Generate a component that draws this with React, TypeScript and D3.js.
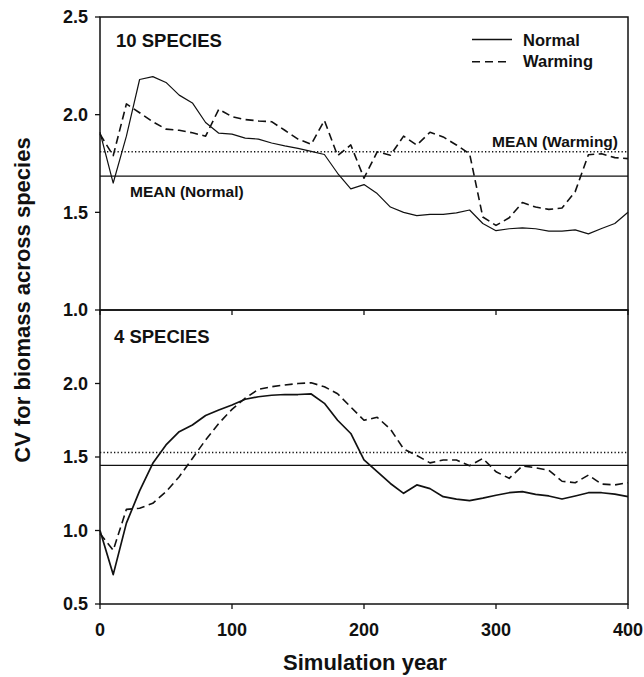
import React from "react";
import * as d3 from "d3";

const years = [0,10,20,30,40,50,60,70,80,90,100,110,120,130,140,150,160,170,180,190,200,210,220,230,240,250,260,270,280,290,300,310,320,330,340,350,360,370,380,390,400];

const top10Normal = [1.91,1.65,1.89,2.18,2.195,2.165,2.10,2.06,1.96,1.905,1.90,1.88,1.875,1.855,1.84,1.827,1.812,1.796,1.70,1.62,1.642,1.596,1.527,1.50,1.483,1.49,1.49,1.497,1.512,1.443,1.406,1.416,1.42,1.416,1.404,1.404,1.41,1.39,1.417,1.443,1.50];
const top10Warming = [1.90,1.79,2.055,2.01,1.964,1.926,1.92,1.907,1.89,2.028,1.99,1.975,1.968,1.964,1.92,1.875,1.848,1.97,1.79,1.845,1.675,1.81,1.792,1.89,1.844,1.91,1.886,1.845,1.80,1.476,1.433,1.472,1.55,1.527,1.515,1.522,1.606,1.795,1.80,1.78,1.775];
const bot4Normal = [1.00,0.70,1.05,1.27,1.457,1.582,1.672,1.718,1.782,1.82,1.854,1.893,1.91,1.92,1.925,1.925,1.929,1.865,1.75,1.66,1.48,1.40,1.32,1.253,1.31,1.285,1.23,1.214,1.203,1.22,1.24,1.257,1.264,1.246,1.235,1.214,1.235,1.257,1.257,1.248,1.23];
const bot4Warming = [0.98,0.865,1.144,1.151,1.185,1.264,1.366,1.49,1.616,1.729,1.824,1.90,1.96,1.978,1.99,2.0,2.005,1.978,1.93,1.84,1.75,1.77,1.69,1.555,1.51,1.46,1.48,1.48,1.44,1.49,1.40,1.355,1.44,1.427,1.41,1.335,1.325,1.377,1.316,1.31,1.325];

const meanTopNormal = 1.685;
const meanTopWarming = 1.81;
const meanBotNormal = 1.443;
const meanBotWarming = 1.53;

const xTicks = [0, 100, 200, 300, 400];
const yTicksTop = [1.0, 1.5, 2.0, 2.5];
const yTicksBot = [0.5, 1.0, 1.5, 2.0];

const FONT = "'Liberation Sans', Arial, Helvetica, sans-serif";
const INK = "#111";

export default function App() {
  const W = 644, H = 677;
  const x = d3.scaleLinear().domain([0, 400]).range([100, 628]);
  const yTop = d3.scaleLinear().domain([1.0, 2.5]).range([310, 17]);
  const yBot = d3.scaleLinear().domain([0.5, 2.5]).range([604, 310]);

  const mk = (y: d3.ScaleLinear<number, number>) =>
    d3.line<number>().x((_, i) => x(years[i])).y((v) => y(v));

  const lineTop = mk(yTop);
  const lineBot = mk(yBot);

  const dash = "8,4.5";
  const dot = "1.3,2.2";

  return (
    <svg width={W} height={H} style={{ position: "absolute", left: 0, top: 0, background: "#fff" }} fontFamily={FONT}>
      <rect x={0} y={0} width={W} height={H} fill="#fff" />
      {/* Panel frames */}
      <rect x={x(0)} y={yTop(2.5)} width={x(400) - x(0)} height={yTop(1.0) - yTop(2.5)} fill="none" stroke={INK} strokeWidth={1.5} />
      <rect x={x(0)} y={yBot(2.5)} width={x(400) - x(0)} height={yBot(0.5) - yBot(2.5)} fill="none" stroke={INK} strokeWidth={1.5} />

      {/* Y ticks top */}
      {yTicksTop.map((t) => (
        <g key={"yt" + t}>
          <line x1={x(0) - 5} x2={x(0)} y1={yTop(t)} y2={yTop(t)} stroke={INK} strokeWidth={1.3} />
          <text x={88} y={yTop(t)} dy="0.36em" textAnchor="end" fontSize={18} fontWeight="bold" fill={INK}>{t.toFixed(1)}</text>
        </g>
      ))}
      {/* Y ticks bottom */}
      {yTicksBot.map((t) => (
        <g key={"yb" + t}>
          <line x1={x(0) - 5} x2={x(0)} y1={yBot(t)} y2={yBot(t)} stroke={INK} strokeWidth={1.3} />
          <text x={88} y={yBot(t)} dy="0.36em" textAnchor="end" fontSize={18} fontWeight="bold" fill={INK}>{t.toFixed(1)}</text>
        </g>
      ))}
      {/* X ticks: top panel bottom axis (pointing down) and bottom panel axis */}
      {xTicks.map((t) => (
        <g key={"x" + t}>
          <line x1={x(t)} x2={x(t)} y1={yTop(1.0)} y2={yTop(1.0) + 5} stroke={INK} strokeWidth={1.3} />
          <line x1={x(t)} x2={x(t)} y1={yBot(0.5)} y2={yBot(0.5) + 5} stroke={INK} strokeWidth={1.3} />
          <text x={x(t)} y={636} textAnchor="middle" fontSize={18} fontWeight="bold" fill={INK}>{t}</text>
        </g>
      ))}

      {/* Mean lines */}
      <line x1={x(0)} x2={x(400)} y1={yTop(meanTopNormal)} y2={yTop(meanTopNormal)} stroke={INK} strokeWidth={1.3} />
      <line x1={x(0)} x2={x(400)} y1={yTop(meanTopWarming)} y2={yTop(meanTopWarming)} stroke={INK} strokeWidth={1.5} strokeDasharray={dot} />
      <line x1={x(0)} x2={x(400)} y1={yBot(meanBotNormal)} y2={yBot(meanBotNormal)} stroke={INK} strokeWidth={1.3} />
      <line x1={x(0)} x2={x(400)} y1={yBot(meanBotWarming)} y2={yBot(meanBotWarming)} stroke={INK} strokeWidth={1.5} strokeDasharray={dot} />

      {/* Series */}
      <path d={lineTop(top10Normal) || ""} fill="none" stroke={INK} strokeWidth={1.2} strokeLinejoin="round" />
      <path d={lineTop(top10Warming) || ""} fill="none" stroke={INK} strokeWidth={1.6} strokeDasharray={dash} strokeLinejoin="round" />
      <path d={lineBot(bot4Normal) || ""} fill="none" stroke={INK} strokeWidth={1.7} strokeLinejoin="round" />
      <path d={lineBot(bot4Warming) || ""} fill="none" stroke={INK} strokeWidth={1.6} strokeDasharray={dash} strokeLinejoin="round" />

      {/* Panel labels */}
      <text x={116} y={47} fontSize={18.5} fontWeight="bold" fill={INK}>10 SPECIES</text>
      <text x={114} y={343} fontSize={18.5} fontWeight="bold" fill={INK}>4 SPECIES</text>

      {/* Mean labels */}
      <text x={130} y={197} fontSize={15.5} fontWeight="bold" fill={INK}>MEAN (Normal)</text>
      <text x={492} y={147} fontSize={15.5} fontWeight="bold" fill={INK}>MEAN (Warming)</text>

      {/* Legend */}
      <line x1={472} x2={512} y1={39.5} y2={39.5} stroke={INK} strokeWidth={1.3} />
      <text x={523} y={46} fontSize={16.5} fontWeight="bold" fill={INK}>Normal</text>
      <line x1={472} x2={510} y1={61.7} y2={61.7} stroke={INK} strokeWidth={1.6} strokeDasharray="8,5" />
      <text x={523} y={67} fontSize={16.5} fontWeight="bold" fill={INK}>Warming</text>

      {/* Axis titles */}
      <text x={365} y={670} textAnchor="middle" fontSize={22} fontWeight="bold" fill={INK}>Simulation year</text>
      <text transform={`translate(30,300) rotate(-90)`} textAnchor="middle" fontSize={22} fontWeight="bold" fill={INK}>CV for biomass across species</text>
    </svg>
  );
}
